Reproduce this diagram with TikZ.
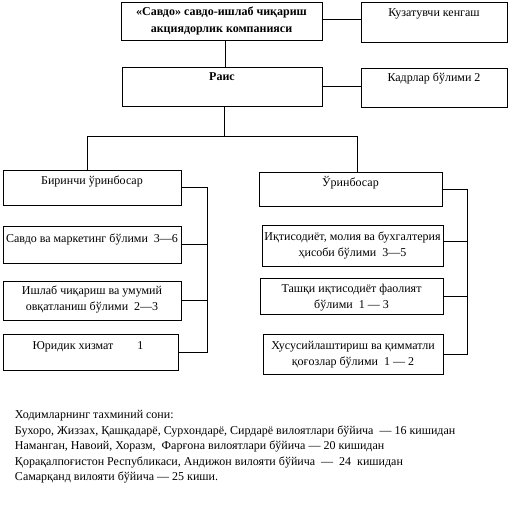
\documentclass[tikz,border=0pt]{standalone}
\usepackage{fontspec}
\setmainfont{Liberation Serif}
\newcommand\mybx[5]{\node[boxst, minimum width={#4-#2}, minimum height={#5-#3}] (#1) at ({(#2+#4)/2},{(#3+#5)/2}) {};}
\newcommand\fr{\rule{0pt}{12pt}}
\begin{document}
\begin{tikzpicture}[x=1pt,y=-1pt,
  boxst/.style={draw, line width=0.9pt, inner sep=0pt, outer sep=0pt},
  txt/.style={inner sep=0pt, outer sep=0pt, align=center, anchor=north, font=\fontsize{12pt}{15.7pt}\selectfont},
  note/.style={inner sep=0pt, outer sep=0pt, align=left, anchor=north west, font=\fontsize{12pt}{15.5pt}\selectfont},
  ln/.style={line width=0.9pt}]
\useasboundingbox (0,0) rectangle (520,504);
% boxes
\mybx{top}{121}{2}{322}{40}
\mybx{kuz}{361}{2}{507}{42}
\mybx{rais}{122}{67}{322}{106}
\mybx{kadr}{361}{68}{507}{107}
\mybx{bir}{3}{170}{181}{205}
\mybx{savdo}{3}{226}{181}{263}
\mybx{ishlab}{3}{281}{181}{320}
\mybx{yur}{3}{334}{178}{370}
\mybx{urin}{259}{172}{442}{206}
\mybx{iqt}{262}{225}{443}{266}
\mybx{tash}{260}{278}{443}{314}
\mybx{xus}{263}{334}{443}{374}
% texts
\node[txt, font=\fontsize{12pt}{16.5pt}\selectfont\bfseries] (ttop) at (221.5,3.5) {\fr«Савдо» савдо-ишлаб чиқариш\\акциядорлик компанияси};
\node[txt] (tkuz) at (434,4.5) {\fr Кузатувчи кенгаш};
\node[txt, font=\fontsize{12pt}{15.7pt}\selectfont\bfseries] (trais) at (222,68.5) {\fr Раис};
\node[txt] (tkadr) at (434,69.5) {\fr Кадрлар бўлими 2};
\node[txt] (tbir) at (92,172.5) {\fr Биринчи ўринбосар};
\node[txt] (tsavdo) at (92,230) {\fr Савдо ва маркетинг бўлими~ 3—6};
\node[txt] (tishlab) at (92,282.5) {\fr Ишлаб чиқариш ва умумий\\овқатланиш бўлими~ 2—3};
\node[txt] (tyur) at (88,337.5) {\fr Юридик хизмат\hspace{24pt}1};
\node[txt] (turin) at (350.5,174) {\fr Ўринбосар};
\node[txt] (tiqt) at (352.5,228.5) {\fr Иқтисодиёт, молия ва бухгалтерия\\ҳисоби бўлими~ 3—5};
\node[txt] (ttash) at (351.5,280.5) {\fr Ташқи иқтисодиёт фаолият\\бўлими~ 1 — 3};
\node[txt] (txus) at (353,337.5) {\fr Хусусийлаштириш ва қимматли\\қоғозлар бўлими~ 1 — 2};
\node[note] (notes) at (15,406.5) {\fr Ходимларнинг тахминий сони:\\
Бухоро, Жиззах, Қашқадарё, Сурхондарё, Сирдарё вилоятлари бўйича~ — 16 кишидан\\
Наманган, Навоий, Хоразм,~ Фарғона вилоятлари бўйича — 20 кишидан\\
Қорақалпоғистон Республикаси, Андижон вилояти бўйича~ —~ 24~ кишидан\\
Самарқанд вилояти бўйича — 25 киши.};
% connectors
\coordinate (hl) at (87,136);
\coordinate (hr) at (357,136);
\coordinate (lb) at (207,0);
\coordinate (rb) at (467.5,0);
\draw[ln] ([yshift=2pt]top.east) -- ([yshift=2pt]top.east -| kuz.west);
\draw[ln] ([xshift=4pt]top.south) -- ([xshift=4pt]top.south |- rais.north);
\draw[ln] (rais.east) -- (rais.east -| kadr.west);
\draw[ln] ([xshift=2pt]rais.south) -- ([xshift=2pt]rais.south |- hl);
\draw[ln] (hl |- bir.north) -- (hl) -- (hr) -- (hr |- urin.north);
\draw[ln] (bir.east) -- (bir.east -| lb) -- (yur.east -| lb) -- (yur.east);
\draw[ln] (savdo.east) -- (savdo.east -| lb);
\draw[ln] (ishlab.east) -- (ishlab.east -| lb);
\draw[ln] (urin.east) -- (urin.east -| rb) -- (xus.east -| rb) -- (xus.east);
\draw[ln] ([yshift=4pt]iqt.east) -- ([yshift=4pt]iqt.east -| rb);
\draw[ln] (tash.east) -- (tash.east -| rb);
\end{tikzpicture}
\end{document}
